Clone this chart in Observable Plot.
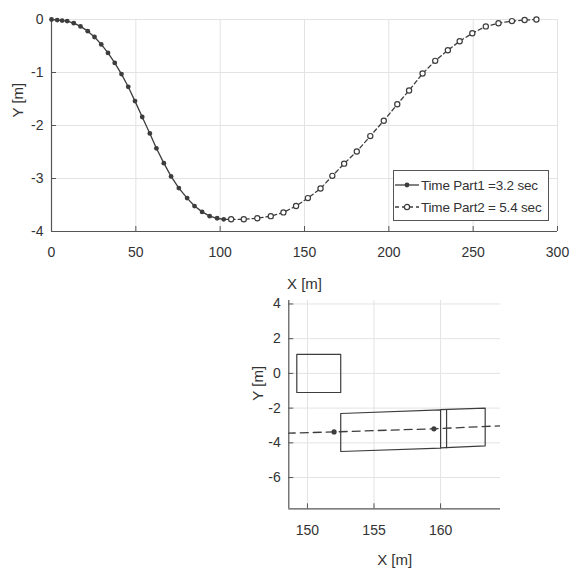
<!DOCTYPE html>
<html>
<head>
<meta charset="utf-8">
<script src="https://cdn.jsdelivr.net/npm/d3@7"></script>
<script src="https://cdn.jsdelivr.net/npm/@observablehq/plot@0.6"></script>
<style>
  html, body { margin: 0; padding: 0; background: #fff; }
  #wrap { position: relative; width: 573px; height: 570px; overflow: hidden;
          font-family: "Liberation Sans", Arial, sans-serif; color: #333; }
  #top, #bottom { position: absolute; left: 0; }
  #top { top: 0; }
  #bottom { top: 290px; }
  #legend { position: absolute; left: 393px; top: 170px; width: 154px; height: 49px;
            border: 1px solid #555; background: #fff; font-size: 13.5px; letter-spacing: -0.2px; }
  #legend .row { position: absolute; left: 1px; height: 20px; display: flex; align-items: center; white-space: nowrap; }
  #legend svg { margin-right: 2px; }
</style>
</head>
<body>
<div id="wrap">
  <div id="top"></div>
  <div id="bottom"></div>
  <div id="legend"></div>
</div>
<script>
// ---- data ----
const part1X = [0, 3.4, 6.3, 9.3, 13.2, 17.2, 21.5, 25.5, 29.5, 33.5, 37.5, 41.5, 45.5, 49.5, 53.8, 58.3, 62.2, 66.6, 70.9, 75.5, 80.4, 84.8, 89.3, 93.8, 98.2, 102.1, 106.5];
const part1Y = [0, -0.01, -0.02, -0.03, -0.07, -0.13, -0.22, -0.33, -0.47, -0.63, -0.82, -1.03, -1.27, -1.54, -1.84, -2.15, -2.43, -2.71, -2.96, -3.18, -3.37, -3.52, -3.63, -3.71, -3.75, -3.77, -3.77];
const part2X = [106.5, 114, 122, 130, 137.5, 145, 152, 159.5, 166.5, 173.5, 181, 189, 197, 205, 212, 220, 227.5, 235, 242, 249.5, 257.5, 265, 273, 280.5, 287.5];
const part2Y = [-3.77, -3.77, -3.75, -3.71, -3.64, -3.52, -3.37, -3.19, -2.95, -2.72, -2.49, -2.2, -1.91, -1.6, -1.34, -1.02, -0.78, -0.58, -0.41, -0.26, -0.13, -0.07, -0.03, -0.01, 0];

const legendLabels = ["Time Part1 =3.2 sec", "Time Part2 = 5.4 sec"];

const topXTicks = [0, 50, 100, 150, 200, 250, 300];
const topYTicks = [0, -1, -2, -3, -4];
const topXDomain = [0, 300];
const topYDomain = [-4, 0];

const botXTicks = [150, 155, 160];
const botYTicks = [4, 2, 0, -2, -4, -6];
const botXDomain = [148.6, 164.5];
const botYDomain = [-7.8, 4.2];

// outlines in the zoomed view (corner points)
const obstacleX = [149.2, 152.5, 152.5, 149.2, 149.2];
const obstacleY = [1.1, 1.1, -1.1, -1.1, 1.1];
const trailerX = [152.5, 160.0, 160.0, 152.5, 152.5];
const trailerY = [-2.31, -2.1, -4.3, -4.5, -2.31];
const tractorX = [160.0, 163.35, 163.35, 160.0];
const tractorY = [-2.09, -2.0, -4.17, -4.29];
const cabLineX = [160.45, 160.45];
const cabLineY = [-2.08, -4.28];

const xLabel = "X [m]";
const yLabel = "Y [m]";

// ---- build tables ----
const part1 = part1X.map((x, i) => ({x, y: part1Y[i]}));
const part2 = part2X.map((x, i) => ({x, y: part2Y[i]}));
const outline = (xs, ys, id) => xs.map((x, i) => ({x, y: ys[i], id}));
const shapes = [
  ...outline(obstacleX, obstacleY, "obstacle"),
  ...outline(trailerX, trailerY, "trailer"),
  ...outline(tractorX, tractorY, "tractor"),
  ...outline(cabLineX, cabLineY, "cab")
];

const INK = "#3d3d3d";
const GRID = "#e3e3e3";
const AXIS = "#555";
const FONT = "\"Liberation Sans\", Arial, sans-serif";
const fmt = d => String(d);

function axesMarks(xTicks, yTicks, xDom, yDom, xPad, yPad) {
  return [
    Plot.gridX(xTicks, {stroke: GRID, strokeOpacity: 1, strokeWidth: 1}),
    Plot.gridY(yTicks, {stroke: GRID, strokeOpacity: 1, strokeWidth: 1}),
    Plot.ruleX([xDom[0]], {stroke: AXIS, strokeWidth: 1.2}),
    Plot.ruleY([yDom[0]], {stroke: AXIS, strokeWidth: 1.2}),
    // inward tick marks
    Plot.axisX(xTicks, {tickSize: 5, dy: -5, tickFormat: () => "", label: null, stroke: AXIS}),
    Plot.axisY(yTicks, {tickSize: 5, dx: 5, tickFormat: () => "", label: null, stroke: AXIS}),
    // tick labels
    Plot.axisX(xTicks, {tickSize: 0, tickPadding: xPad, tickFormat: fmt, label: null, fontSize: 14, fill: "#333"}),
    Plot.axisY(yTicks, {tickSize: 0, tickPadding: yPad, tickFormat: fmt, label: null, fontSize: 14, fill: "#333"})
  ];
}

// ---- top chart ----
const topChart = Plot.plot({
  width: 573,
  height: 300,
  marginTop: 19,
  marginBottom: 69,
  marginLeft: 51,
  marginRight: 16,
  style: {fontFamily: FONT, background: "transparent"},
  x: {domain: topXDomain},
  y: {domain: topYDomain},
  marks: [
    ...axesMarks(topXTicks, topYTicks, topXDomain, topYDomain, 16, 8),
    Plot.line(part1, {x: "x", y: "y", stroke: INK, strokeWidth: 1.3}),
    Plot.dot(part1, {x: "x", y: "y", r: 2.4, fill: INK, stroke: "none"}),
    Plot.line(part2, {x: "x", y: "y", stroke: INK, strokeWidth: 1.3, strokeDasharray: "4,3"}),
    Plot.dot(part2, {x: "x", y: "y", r: 2.6, fill: "#fff", stroke: INK, strokeWidth: 1.2}),
    Plot.text([xLabel], {frameAnchor: "bottom", dy: 53, fontSize: 15, fill: "#333", lineAnchor: "middle"}),
    Plot.text([yLabel], {frameAnchor: "left", dx: -33, dy: -8, rotate: -90, fontSize: 15, fill: "#333", lineAnchor: "middle"})
  ]
});
document.getElementById("top").append(topChart);

// ---- bottom (zoomed) chart ----
const botChart = Plot.plot({
  width: 573,
  height: 280,
  marginTop: 10,
  marginBottom: 61.7,
  marginLeft: 288.3,
  marginRight: 73,
  style: {fontFamily: FONT, background: "transparent"},
  x: {domain: botXDomain},
  y: {domain: botYDomain},
  marks: [
    ...axesMarks(botXTicks, botYTicks, botXDomain, botYDomain, 16, 8),
    Plot.line(shapes, {x: "x", y: "y", z: "id", stroke: INK, strokeWidth: 1.2}),
    Plot.line(part2, {x: "x", y: "y", stroke: INK, strokeWidth: 1.3, strokeDasharray: "8,5", clip: true}),
    Plot.dot(part2, {x: "x", y: "y", r: 2.6, fill: INK, stroke: "none", clip: true}),
    Plot.text([xLabel], {frameAnchor: "bottom", dy: 51, fontSize: 15, fill: "#333", lineAnchor: "middle"}),
    Plot.text([yLabel], {frameAnchor: "left", dx: -31, dy: -4, rotate: -90, fontSize: 15, fill: "#333", lineAnchor: "middle"})
  ]
});
document.getElementById("bottom").append(botChart);

// ---- legend ----
const legend = document.getElementById("legend");
const ns = "http://www.w3.org/2000/svg";
legendLabels.forEach((label, i) => {
  const row = document.createElement("div");
  row.className = "row";
  row.style.top = (i === 0 ? 4 : 26) + "px";
  const svg = document.createElementNS(ns, "svg");
  svg.setAttribute("width", "24");
  svg.setAttribute("height", "12");
  const ln = document.createElementNS(ns, "line");
  ln.setAttribute("x1", "0"); ln.setAttribute("x2", "24");
  ln.setAttribute("y1", "6"); ln.setAttribute("y2", "6");
  ln.setAttribute("stroke", INK); ln.setAttribute("stroke-width", "1.3");
  if (i === 1) ln.setAttribute("stroke-dasharray", "4,3");
  const c = document.createElementNS(ns, "circle");
  c.setAttribute("cx", "12"); c.setAttribute("cy", "6");
  c.setAttribute("r", i === 0 ? "2.4" : "2.6");
  c.setAttribute("fill", i === 0 ? INK : "#fff");
  c.setAttribute("stroke", i === 0 ? "none" : INK);
  c.setAttribute("stroke-width", "1.2");
  svg.append(ln, c);
  const span = document.createElement("span");
  span.textContent = label;
  row.append(svg, span);
  legend.append(row);
});
</script>
</body>
</html>
